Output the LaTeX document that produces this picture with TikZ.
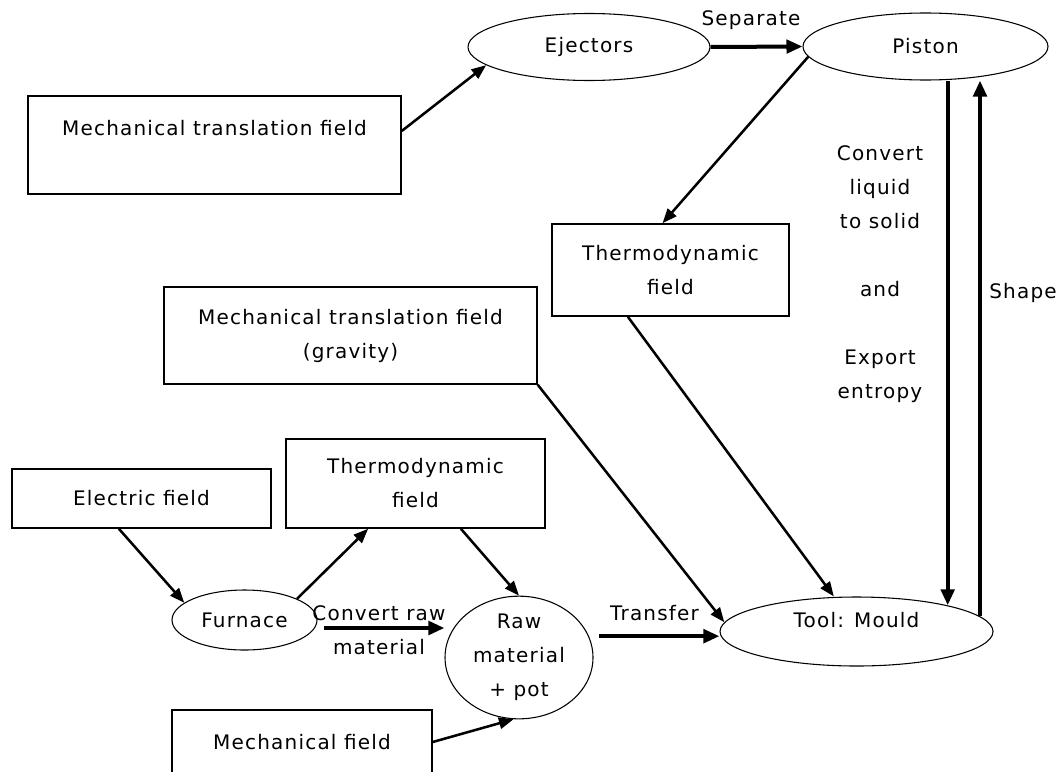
\documentclass[tikz,border=0pt]{standalone}
\usepackage{fontspec}
\setmainfont{DejaVu Sans}[LetterSpace=6]
\usetikzlibrary{arrows.meta,shapes.geometric}

\begin{document}
\begin{tikzpicture}[x=0.75pt, y=-0.75pt, >={Triangle[length=11pt,width=8.5pt]},
    font=\fontsize{15}{25.5}\selectfont,
    field/.style={draw, line width=1.1pt, rectangle, inner sep=0pt, align=center},
    part/.style={draw, line width=0.8pt, ellipse, inner sep=0pt, align=center},
    flow/.style={->, line width=1.9pt},
    bigflow/.style={-{Triangle[length=12pt,width=10pt]}, line width=3pt}]
    \clip (0,0) rectangle (1062,771);

    % Fields
    \node[field, minimum width=279.75pt, minimum height=73.5pt] (mtf) at (214.5,145) {Mechanical translation field\\ ~};
    \node[field, minimum width=279.75pt, minimum height=72.75pt] (grav) at (350.5,335.5) {Mechanical translation field\\(gravity)};
    \node[field, minimum width=177.75pt, minimum height=69pt] (th1) at (670.5,270) {Thermodynamic\\field};
    \node[field, minimum width=194.25pt, minimum height=44.25pt] (el) at (141.5,498.5) {Electric field};
    \node[field, minimum width=194.25pt, minimum height=66.75pt] (th2) at (415.5,483.5) {Thermodynamic\\field};
    \node[field, minimum width=195pt, minimum height=73.5pt] (mech) at (302,759) {Mechanical field\\ ~};

    % Parts
    \node[part, minimum width=181.5pt, minimum height=50.25pt] (ej) at (589,47) {Ejectors};
    \node[part, minimum width=183.75pt, minimum height=50.25pt] (pis) at (925.5,46.5) {Piston};
    \node[part, minimum width=108.75pt, minimum height=45pt] (fur) at (244.5,620) {Furnace};
    \node[part, minimum width=111pt, minimum height=90.75pt] (raw) at (519,657.5) {Raw\\material\\+ pot};
    \node[part, minimum width=204.75pt, minimum height=51.75pt] (mould) at (856.5,631.5) {Tool: Mould\\[-8pt]~};

    % Labels
    \node (sep) at (751,20) {Separate};
    \node[align=center] (conv) at (379,630) {Convert raw\\material};
    \node (trans) at (654.5,613) {Transfer};
    \node[align=center] (cool) at (880,274) {Convert\\liquid\\to solid\\[25.5pt]and\\[25.5pt]Export\\entropy};
    \node (shape) at (1023,293) {Shape};

    % Top part
    \draw[flow] ([yshift=10.5pt]mtf.east) -- (ej.190);
    \draw[bigflow] (ej.east) -- (pis.west);
    \draw[flow] (pis.185) -- ([xshift=-6pt]th1.north);
    \draw[flow] ([xshift=-32pt]th1.south) -- ([xshift=-17pt]mould.north);
    \draw[flow] (grav.south east) -- (mould.176);
    \draw[bigflow] (pis.south -| mould.16) -- (mould.16);
    \draw[bigflow] (mould.7) -- (mould.7 |- pis.south);

    % Bottom part
    \draw[flow] ([xshift=-17pt]el.south) -- (fur.164);
    \draw[flow] (fur.22) -- ([xshift=-35.5pt]th2.south);
    \draw[flow] ([xshift=34pt]th2.south) -- (raw.north);
    \draw[bigflow] ([xshift=5pt,yshift=-6pt]fur.east) -- ([yshift=-6pt]fur.east -| raw.west);
    \draw[flow] ([yshift=12.75pt]mech.east) -- (raw.265);
    \draw[bigflow] ([xshift=4pt,yshift=16pt]raw.east) -- ([yshift=16pt]raw.east -| mould.west);
\end{tikzpicture}
\end{document}
